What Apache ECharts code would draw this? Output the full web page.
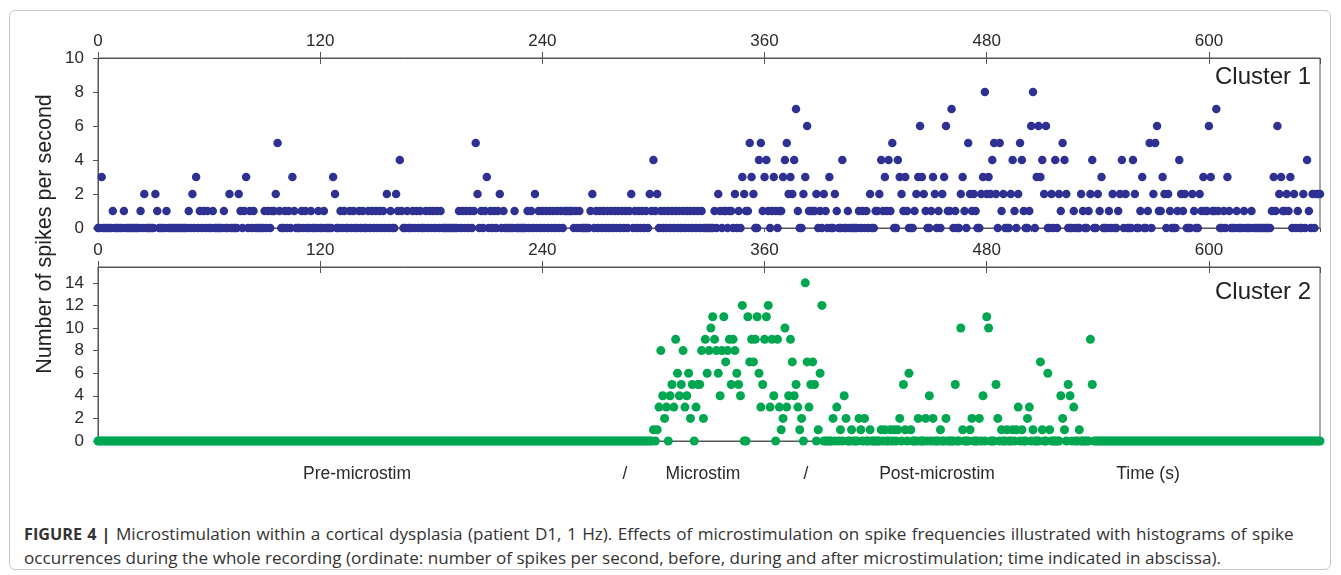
<!DOCTYPE html>
<html><head><meta charset="utf-8">
<script src="https://cdn.jsdelivr.net/npm/echarts@6/dist/echarts.min.js"></script>
<style>
html,body{margin:0;padding:0;background:#fff;}
#wrap{position:relative;width:1341px;height:575px;overflow:hidden;font-family:"Liberation Sans",Arial,sans-serif;}
#chart{position:absolute;left:0;top:0;width:1341px;height:520px;}
#frame{position:absolute;left:9px;top:10px;width:1322px;height:560px;border:1px solid #c8c8c8;border-radius:6px;box-sizing:border-box;}
#caption{position:absolute;left:24px;top:522px;width:1310px;font-family:"Open Sans","Noto Sans",sans-serif;font-size:17.1px;line-height:23px;color:#333;white-space:nowrap;}
#caption b{font-weight:bold;font-size:16.2px;}
#caption .l1{word-spacing:1px;}
</style></head>
<body><div id="wrap"><div id="frame"></div><div id="chart"></div>
<div id="caption"><span class="l1"><b>FIGURE 4 |</b> Microstimulation within a cortical dysplasia (patient D1, 1 Hz). Effects of microstimulation on spike frequencies illustrated with histograms of spike</span><br>occurrences during the whole recording (ordinate: number of spikes per second, before, during and after microstimulation; time indicated in abscissa).</div>
</div>
<script>
// spikes per second, cluster 1 (t = 0..660 s), rows of 20 seconds
const cluster1 = [
0,0,3,0,0,0,0,0,1,0,0,0,0,0,1,0,0,0,0,0,
0,0,0,1,0,2,0,0,0,0,0,2,1,0,0,0,0,1,0,0,
0,0,0,0,0,0,0,0,0,1,0,2,0,3,0,1,0,1,0,1,
0,0,1,0,0,0,0,0,1,0,0,2,0,0,0,0,2,1,0,1,
3,0,1,0,1,0,0,0,0,0,1,0,1,0,1,1,2,5,1,0,
0,1,0,1,0,3,1,0,0,0,1,0,1,0,0,1,0,0,0,1,
0,0,1,0,0,0,0,3,2,0,0,1,0,1,0,0,1,0,1,0,
0,1,0,1,0,0,1,0,1,0,1,0,1,0,1,0,2,0,1,0,
0,2,1,4,1,0,0,1,0,0,1,0,1,0,1,0,0,1,0,1,
0,1,0,1,0,1,0,0,0,0,0,0,0,0,0,1,0,1,0,1,
0,1,0,1,5,2,0,1,0,1,3,0,1,0,1,0,1,2,0,1,
0,0,0,0,0,1,0,0,0,0,0,0,1,0,1,0,2,0,1,0,
1,0,1,0,1,0,1,0,1,0,1,0,1,1,1,1,1,0,1,0,
1,0,0,0,0,0,1,2,0,1,0,1,0,1,0,1,0,1,0,1,
0,1,0,1,0,1,0,1,2,0,1,0,1,0,1,0,1,0,2,1,
4,1,2,0,1,0,1,0,1,0,1,0,1,0,1,0,1,0,1,0,
1,0,1,0,1,0,1,0,0,0,0,0,0,1,0,2,1,0,1,1,
0,1,1,0,2,0,1,0,3,2,1,1,5,3,2,0,0,4,5,1,
3,4,1,0,1,3,1,0,1,1,3,4,5,2,3,2,4,7,1,0,
0,2,3,6,1,1,1,1,2,0,1,0,2,1,0,3,0,0,2,1,
0,0,4,0,0,1,0,0,0,0,0,1,0,1,0,1,0,2,0,0,
1,1,2,4,1,3,1,4,1,5,0,0,4,3,2,1,3,1,0,0,
0,1,2,3,6,3,2,1,0,0,1,3,2,0,1,0,2,3,6,1,
1,7,0,1,0,0,2,3,1,0,5,2,1,2,1,0,0,2,3,8,
2,3,2,4,5,2,0,5,1,2,0,0,0,2,4,1,0,2,5,4,
1,0,0,1,6,8,0,3,6,3,4,2,6,0,0,2,0,4,0,2,
1,5,4,2,0,0,0,1,0,0,0,2,1,0,0,1,2,4,0,0,
2,1,3,0,0,0,1,0,2,0,0,1,2,4,0,2,0,0,0,4,
2,0,0,1,3,0,0,1,5,0,2,5,6,1,1,3,2,0,2,1,
0,0,0,1,4,2,1,2,0,0,0,2,1,0,0,2,1,3,1,1,
6,3,1,1,7,1,0,0,1,0,3,1,0,0,0,1,0,0,0,1,
0,0,0,1,0,0,0,0,0,0,0,0,0,0,1,3,1,6,2,3,
1,1,2,1,3,0,2,0,1,0,0,2,0,4,1,0,2,0,2,2,
2
];
// spikes per second, cluster 2 (t = 0..660 s)
const cluster2 = [
0,0,0,0,0,0,0,0,0,0,0,0,0,0,0,0,0,0,0,0,
0,0,0,0,0,0,0,0,0,0,0,0,0,0,0,0,0,0,0,0,
0,0,0,0,0,0,0,0,0,0,0,0,0,0,0,0,0,0,0,0,
0,0,0,0,0,0,0,0,0,0,0,0,0,0,0,0,0,0,0,0,
0,0,0,0,0,0,0,0,0,0,0,0,0,0,0,0,0,0,0,0,
0,0,0,0,0,0,0,0,0,0,0,0,0,0,0,0,0,0,0,0,
0,0,0,0,0,0,0,0,0,0,0,0,0,0,0,0,0,0,0,0,
0,0,0,0,0,0,0,0,0,0,0,0,0,0,0,0,0,0,0,0,
0,0,0,0,0,0,0,0,0,0,0,0,0,0,0,0,0,0,0,0,
0,0,0,0,0,0,0,0,0,0,0,0,0,0,0,0,0,0,0,0,
0,0,0,0,0,0,0,0,0,0,0,0,0,0,0,0,0,0,0,0,
0,0,0,0,0,0,0,0,0,0,0,0,0,0,0,0,0,0,0,0,
0,0,0,0,0,0,0,0,0,0,0,0,0,0,0,0,0,0,0,0,
0,0,0,0,0,0,0,0,0,0,0,0,0,0,0,0,0,0,0,0,
0,0,0,0,0,0,0,0,0,0,0,0,0,0,0,0,0,0,0,0,
1,0,1,3,8,4,2,3,0,4,5,3,9,6,4,5,8,3,4,6,
2,5,0,3,5,5,8,2,9,6,8,10,11,9,8,6,4,8,11,7,
8,9,5,9,8,6,5,4,12,0,0,11,7,9,7,9,11,6,3,5,
9,11,12,3,9,4,0,9,3,1,2,10,3,4,9,7,4,5,3,1,
2,0,14,7,3,5,7,5,0,1,6,12,0,0,0,0,0,2,0,3,
0,1,0,4,2,0,0,1,0,0,0,2,1,0,2,0,0,1,0,0,
0,0,0,1,0,1,0,0,1,0,1,0,1,2,0,5,1,0,6,1,
0,0,0,2,0,0,0,2,0,4,0,2,0,0,0,1,0,0,2,0,
0,0,0,5,0,0,10,1,0,0,0,1,2,0,0,0,2,0,4,0,
11,10,0,0,0,5,2,0,1,0,0,1,0,0,1,0,1,3,0,1,
0,0,2,3,0,1,0,0,0,7,1,0,0,6,1,0,0,0,0,0,
4,2,1,0,5,4,0,3,0,0,1,0,0,0,0,0,9,5,0,0,
0,0,0,0,0,0,0,0,0,0,0,0,0,0,0,0,0,0,0,0,
0,0,0,0,0,0,0,0,0,0,0,0,0,0,0,0,0,0,0,0,
0,0,0,0,0,0,0,0,0,0,0,0,0,0,0,0,0,0,0,0,
0,0,0,0,0,0,0,0,0,0,0,0,0,0,0,0,0,0,0,0,
0,0,0,0,0,0,0,0,0,0,0,0,0,0,0,0,0,0,0,0,
0,0,0,0,0,0,0,0,0,0,0,0,0,0,0,0,0,0,0,0,
0
];
const timeTicks = [0, 120, 240, 360, 480, 600];
const panelNames = ["Cluster 1", "Cluster 2"];
const phaseLabels = ["Pre-microstim", "/", "Microstim", "/", "Post-microstim", "Time (s)"];
const phaseLabelX = [357, 625, 703, 806, 937, 1148];
const yTitle = "Number of spikes per second";

const c1 = cluster1.map((v, i) => [i, v]);
const c2 = cluster2.map((v, i) => [i, v]);

const FONT = '"Liberation Sans", Arial, sans-serif';
const axisCol = '#555';
const txtCol = '#2a2a2a';

function xAx(grid, pos, showLabel, opts) {
  opts = opts || {};
  return {
    type: 'value', gridIndex: grid, position: pos, min: 0, max: 660,
    interval: opts.interval || 120,
    axisLine: {show: opts.line !== false, onZero: false, lineStyle: {color: axisCol, width: 1}},
    axisTick: {show: opts.tick !== false, inside: !!opts.inside, length: opts.tickLen || 6, lineStyle: {color: axisCol}},
    axisLabel: {show: showLabel, fontSize: 17, color: txtCol, fontFamily: FONT, margin: 8, showMaxLabel: false},
    splitLine: {show: false}
  };
}
function yAx(grid, max) {
  return {
    type: 'value', gridIndex: grid, min: 0, max: max, interval: 2,
    axisLine: {show: true, lineStyle: {color: axisCol, width: 1}},
    axisTick: {show: true, length: 5, lineStyle: {color: axisCol}},
    axisLabel: {fontSize: 17, color: txtCol, fontFamily: FONT, margin: 14, showMaxLabel: max % 2 === 0},
    splitLine: {show: false}
  };
}

const chart = echarts.init(document.getElementById('chart'), null, {renderer: 'canvas'});
chart.setOption({
  animation: false,
  backgroundColor: 'transparent',
  grid: [
    {left: 98, top: 58, width: 1222, height: 170, show: true, borderColor: axisCol, borderWidth: 1},
    {left: 98, top: 267, width: 1222, height: 174, show: true, borderColor: axisCol, borderWidth: 1}
  ],
  xAxis: [
    xAx(0, 'top', true),
    xAx(0, 'bottom', false, {interval: 72, tickLen: 4}),
    xAx(1, 'top', true),
    xAx(1, 'bottom', false, {tick: false}),
    xAx(0, 'top', false, {line: false, inside: true}),
    xAx(1, 'top', false, {line: false, inside: true})
  ],
  yAxis: [yAx(0, 10), yAx(1, 15.4)],
  series: [
    {type: 'scatter', xAxisIndex: 0, yAxisIndex: 0, data: c1, symbolSize: 8.5, clip: false,
     itemStyle: {color: '#2e3192', opacity: 1}},
    {type: 'scatter', xAxisIndex: 2, yAxisIndex: 1, data: c2, symbolSize: 9, clip: false,
     itemStyle: {color: '#00a650', opacity: 1}}
  ],
  graphic: [
    {type: 'text', right: 30, top: 65, style: {text: panelNames[0], font: '24px ' + FONT, fill: '#222'}},
    {type: 'text', right: 30, top: 280, style: {text: panelNames[1], font: '24px ' + FONT, fill: '#222'}},
    {type: 'text', x: 45, y: 234, rotation: Math.PI / 2,
     style: {text: yTitle, font: '21.5px ' + FONT, fill: '#222', align: 'center', verticalAlign: 'middle'}}
  ].concat(phaseLabels.map((t, i) => ({
    type: 'text', x: phaseLabelX[i], y: 474,
    style: {text: t, font: '17.5px ' + FONT, fill: txtCol, align: 'center', verticalAlign: 'middle'}
  })))
});
</script></body></html>
